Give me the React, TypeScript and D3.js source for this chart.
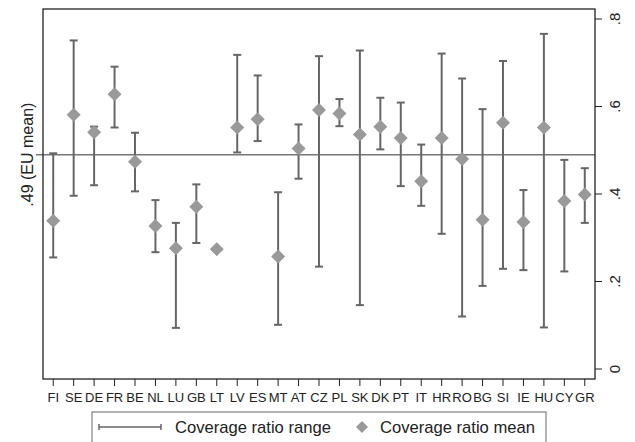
import React from "react";
import * as d3 from "d3";

const countries = ["FI","SE","DE","FR","BE","NL","LU","GB","LT","LV","ES","MT","AT","CZ","PL","SK","DK","PT","IT","HR","RO","BG","SI","IE","HU","CY","GR"];
const meanValues = [0.339,0.581,0.541,0.628,0.474,0.327,0.276,0.371,0.274,0.552,0.571,0.257,0.504,0.592,0.584,0.536,0.554,0.528,0.429,0.528,0.480,0.341,0.563,0.336,0.552,0.384,0.399];
const minValues = [0.255,0.396,0.420,0.552,0.406,0.267,0.094,0.288,0.272,0.495,0.521,0.101,0.435,0.234,0.555,0.146,0.502,0.418,0.373,0.309,0.120,0.190,0.229,0.226,0.095,0.223,0.334];
const maxValues = [0.493,0.751,0.554,0.691,0.540,0.386,0.334,0.422,0.277,0.718,0.671,0.404,0.559,0.715,0.617,0.728,0.620,0.609,0.513,0.721,0.664,0.594,0.704,0.409,0.766,0.478,0.459];
const yTicks = [0, 0.2, 0.4, 0.6, 0.8];
const yTickLabels = ["0", ".2", ".4", ".6", ".8"];
const euMean = 0.49;
const euMeanLabel = ".49 (EU mean)";
const legendLabels = ["Coverage ratio range", "Coverage ratio mean"];

export default function App() {
  const W = 635, H = 442;
  const left = 43, right = 595, top = 9, bottom = 379;
  const x = d3.scalePoint<string>().domain(countries).range([left, right]).padding(0.5);
  const y = d3.scaleLinear().domain([0, 0.8]).range([369, 19]);
  const rangeColor = "#666666";
  const meanColor = "#999999";
  const font = "'Liberation Sans', Arial, sans-serif";
  const diamond = (cx: number, cy: number, r: number) =>
    `M${cx},${cy - r}L${cx + r},${cy}L${cx},${cy + r}L${cx - r},${cy}Z`;
  const cap = 4;
  return (
    <svg width={W} height={H} style={{ position: "absolute", left: 0, top: 0, background: "#fff" }}>
      <rect x={0} y={0} width={W} height={H} fill="#fff" />
      <line x1={36} x2={right} y1={y(euMean)} y2={y(euMean)} stroke="#777" strokeWidth={1.5} />
      <text transform={`translate(33,${y(euMean)}) rotate(-90)`} textAnchor="middle" fontFamily={font} fontSize={16} fill="#222">{euMeanLabel}</text>
      {countries.map((c, i) => {
        const cx = x(c)!;
        return (
          <g key={c} stroke={rangeColor} strokeWidth={2}>
            <line x1={cx} x2={cx} y1={y(minValues[i])} y2={y(maxValues[i])} />
            <line x1={cx - cap} x2={cx + cap} y1={y(minValues[i])} y2={y(minValues[i])} />
            <line x1={cx - cap} x2={cx + cap} y1={y(maxValues[i])} y2={y(maxValues[i])} />
          </g>
        );
      })}
      {countries.map((c, i) => (
        <path key={"m" + c} d={diamond(x(c)!, y(meanValues[i]), 7)} fill={meanColor} />
      ))}
      <rect x={left} y={top} width={right - left} height={bottom - top} fill="none" stroke="#222" strokeWidth={1.3} />
      {yTicks.map((t, i) => (
        <g key={"t" + t}>
          <line x1={right} x2={right + 7} y1={y(t)} y2={y(t)} stroke="#222" strokeWidth={1} />
          <text transform={`translate(620,${y(t)}) rotate(-90)`} textAnchor="middle" fontFamily={font} fontSize={15} fill="#222">{yTickLabels[i]}</text>
        </g>
      ))}
      {countries.map((c) => (
        <g key={"x" + c}>
          <line x1={x(c)!} x2={x(c)!} y1={bottom} y2={bottom + 7} stroke="#222" strokeWidth={1} />
          <text x={x(c)!} y={402} textAnchor="middle" fontFamily={font} fontSize={13} fill="#222">{c}</text>
        </g>
      ))}
      <rect x={92} y={412} width={454} height={32} fill="none" stroke="#666" strokeWidth={1} />
      <g stroke={rangeColor} strokeWidth={1.5}>
        <line x1={99} x2={161} y1={427} y2={427} />
        <line x1={99} x2={99} y1={424} y2={430} />
        <line x1={161} x2={161} y1={424} y2={430} />
      </g>
      <text x={175} y={433} fontFamily={font} fontSize={16.6} fill="#222">{legendLabels[0]}</text>
      <path d={diamond(362, 427, 6)} fill={meanColor} />
      <text x={380} y={433} fontFamily={font} fontSize={16.6} fill="#222">{legendLabels[1]}</text>
    </svg>
  );
}
